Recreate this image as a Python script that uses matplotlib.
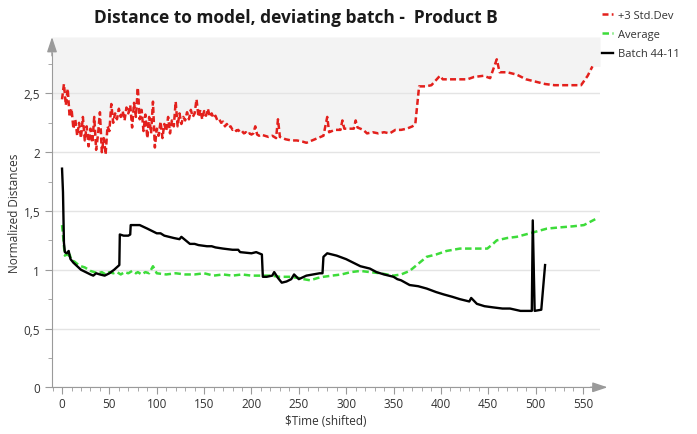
import matplotlib
matplotlib.use("Agg")
import matplotlib.pyplot as plt
from matplotlib.lines import Line2D
from matplotlib.ticker import MultipleLocator, FuncFormatter

# ---------------------------------------------------------------------
# Data: normalized distance to model over shifted time
# ---------------------------------------------------------------------
# +3 Std.Dev control limit (noisy start, smoother later)
std_x = [0, 2, 4, 6, 8, 10, 12, 14, 16, 18, 20, 22, 24, 26, 28, 30, 32, 34, 36, 38,
         40, 42, 44, 46, 48, 50, 52, 54, 56, 58, 60, 62, 64, 66, 68, 70, 72, 74, 76, 78,
         80, 82, 84, 86, 88, 90, 92, 94, 96, 98, 100, 102, 104, 106, 108, 110, 112, 114,
         116, 118, 120, 122, 124, 126, 128, 130, 132, 134, 136, 138, 140, 142, 144, 146,
         148, 150, 152, 154, 156, 158, 160, 162, 164, 166, 168, 170, 172, 174, 176, 178,
         180, 182, 184, 186, 188, 190, 192, 194, 196, 198, 200, 202, 204, 206, 208, 210,
         214, 218, 222, 226, 228, 230, 236, 242, 248, 254, 258, 264, 270, 276, 280, 282,
         288, 294, 296, 298, 304, 308, 310, 312, 318, 322, 328, 334, 340, 346, 352, 358,
         364, 370, 373, 377, 384, 390, 399, 402, 410, 420, 428, 435, 445, 452, 459, 462,
         470, 480, 490, 500, 510, 520, 535, 548, 555, 560]
std_y = [2.45, 2.58, 2.40, 2.54, 2.30, 2.37, 2.20, 2.28, 2.14, 2.25, 2.12, 2.30, 2.10, 2.22,
         2.05, 2.20, 2.08, 2.30, 2.02, 2.15, 2.34, 2.00, 2.12, 1.98, 2.22, 2.18, 2.41, 2.25,
         2.33, 2.28, 2.37, 2.30, 2.35, 2.27, 2.38, 2.33, 2.40, 2.21, 2.42, 2.30, 2.55, 2.28,
         2.36, 2.18, 2.32, 2.12, 2.30, 2.16, 2.43, 2.04, 2.20, 2.14, 2.26, 2.12, 2.24, 2.18,
         2.30, 2.16, 2.27, 2.22, 2.43, 2.22, 2.33, 2.24, 2.30, 2.27, 2.34, 2.28, 2.36, 2.30,
         2.33, 2.45, 2.30, 2.36, 2.28, 2.35, 2.31, 2.37, 2.30, 2.33, 2.29, 2.31, 2.27, 2.28,
         2.25, 2.26, 2.22, 2.24, 2.21, 2.22, 2.19, 2.20, 2.18, 2.19, 2.17, 2.18, 2.16, 2.17,
         2.15, 2.16, 2.15, 2.16, 2.22, 2.15, 2.14, 2.15,
         2.14, 2.13, 2.14, 2.12, 2.28, 2.13, 2.11, 2.10, 2.10, 2.09, 2.08, 2.10, 2.12, 2.14,
         2.30, 2.17, 2.19, 2.19, 2.27, 2.20, 2.20, 2.20, 2.27, 2.21, 2.19, 2.16, 2.17, 2.16,
         2.17, 2.16, 2.19, 2.19, 2.20, 2.22, 2.24, 2.56, 2.56, 2.57, 2.65, 2.62, 2.62, 2.62,
         2.62, 2.64, 2.65, 2.63, 2.79, 2.68, 2.68, 2.66, 2.62, 2.60, 2.58, 2.57, 2.57, 2.57,
         2.65, 2.73]

# Average of reference batches
avg_x = [0, 1, 2, 3, 5, 7, 8, 10, 13, 16, 20, 24, 28, 30, 34, 38, 42, 46, 50, 54, 58,
         62, 66, 70, 74, 78, 80, 84, 88, 92, 96, 100, 110, 120, 130, 140, 150, 160, 170,
         180, 190, 200, 210, 220, 230, 240, 250, 255, 262, 270, 276, 285, 295, 305, 315,
         325, 336, 350, 358, 367, 376, 385, 395, 406, 420, 435, 449, 455, 459, 470, 480,
         494, 503, 512, 525, 540, 551, 563]
avg_y = [1.38, 1.30, 1.20, 1.12, 1.14, 1.10, 1.13, 1.08, 1.07, 1.05, 1.03, 1.02, 1.00,
         0.99, 0.98, 0.97, 0.98, 0.96, 0.98, 0.97, 0.98, 0.96, 0.98, 0.97, 0.99, 0.97,
         0.98, 0.96, 0.98, 0.97, 1.03, 0.97, 0.96, 0.97, 0.96, 0.96, 0.97, 0.95, 0.96,
         0.95, 0.96, 0.95, 0.95, 0.95, 0.94, 0.94, 0.93, 0.92, 0.91, 0.93, 0.94, 0.95,
         0.96, 0.98, 0.99, 0.98, 0.97, 0.95, 0.96, 0.99, 1.05, 1.11, 1.13, 1.16, 1.18,
         1.18, 1.18, 1.22, 1.25, 1.27, 1.28, 1.31, 1.33, 1.35, 1.36, 1.37, 1.38, 1.43]

# Deviating batch 44-11
batch_x = [0, 1, 2, 3, 5, 7, 8, 9, 12, 16, 20, 25, 30, 33, 36, 40, 45, 50, 55, 60.5,
           61, 65, 70, 72, 72.5, 76, 82, 90, 100, 104, 108, 118, 124, 126, 135, 140,
           144, 153, 158, 162, 170, 180, 186, 188, 200, 205, 211, 212, 216, 222, 224,
           228, 232, 237, 242, 245, 250, 258, 265, 272, 275, 276, 280, 290, 300, 315,
           325, 332, 340, 350, 354, 358, 367, 376, 385, 395, 403, 412, 420, 430, 432,
           438, 446, 455, 465, 473, 484, 496, 497, 499, 506, 510]
batch_y = [1.86, 1.66, 1.23, 1.15, 1.14, 1.16, 1.12, 1.09, 1.06, 1.03, 1.00, 0.98, 0.96,
           0.95, 0.97, 0.96, 0.95, 0.97, 1.00, 1.04, 1.30, 1.29, 1.29, 1.30, 1.38, 1.38,
           1.38, 1.35, 1.31, 1.31, 1.29, 1.27, 1.26, 1.28, 1.22, 1.22, 1.21, 1.20, 1.20,
           1.19, 1.18, 1.17, 1.17, 1.15, 1.14, 1.15, 1.13, 0.94, 0.94, 0.95, 0.98, 0.93,
           0.89, 0.90, 0.92, 0.96, 0.92, 0.95, 0.96, 0.97, 0.97, 1.11, 1.14, 1.12, 1.09,
           1.03, 1.01, 0.98, 0.96, 0.94, 0.92, 0.91, 0.87, 0.86, 0.84, 0.81, 0.79, 0.77,
           0.75, 0.73, 0.76, 0.71, 0.69, 0.68, 0.67, 0.67, 0.65, 0.65, 1.42, 0.65, 0.66,
           1.04]

x_ticks = [0, 50, 100, 150, 200, 250, 300, 350, 400, 450, 500, 550]
y_ticks = [0, 0.5, 1, 1.5, 2, 2.5]

# ---------------------------------------------------------------------
# Figure
# ---------------------------------------------------------------------
plt.rcParams['font.family'] = ['Open Sans', 'DejaVu Sans']
AXIS_GREY = '#9a9a9a'
X_MIN, X_MAX = -10.6, 568
Y_MAX = 2.98

fig = plt.figure(figsize=(6.97, 4.35), dpi=100)
ax = fig.add_axes([52 / 697, 1 - 388.3 / 435, 548 / 697, 350.3 / 435])
ax.set_xlim(X_MIN, X_MAX)
ax.set_ylim(0, Y_MAX)

# light shading above the control limit
fill_x = [X_MIN] + std_x + [X_MAX]
fill_y = [std_y[0]] + std_y + [std_y[-1]]
ax.fill_between(fill_x, fill_y, Y_MAX, color='#f3f3f3', lw=0, zorder=0)

ax.plot(avg_x, avg_y, color='#3ddc3a', lw=1.8, dashes=(2.6, 1.4), zorder=3)
ax.plot(std_x, std_y, color='#e3201c', lw=1.8, dashes=(2.4, 1.3), zorder=3)
ax.plot(batch_x, batch_y, color='black', lw=1.7, zorder=4)

# axes styling
ax.yaxis.grid(True, color='#e4e4e4', lw=1)
ax.set_axisbelow(True)
for side in ['top', 'right']:
    ax.spines[side].set_visible(False)
for side in ['left', 'bottom']:
    ax.spines[side].set_color(AXIS_GREY)
ax.spines['left'].set_bounds(0, 2.84)
ax.spines['bottom'].set_bounds(X_MIN, 560)

ax.set_xticks(x_ticks)
ax.set_yticks(y_ticks)
ax.xaxis.set_minor_locator(MultipleLocator(10))
ax.yaxis.set_minor_locator(MultipleLocator(0.25))
ax.yaxis.set_major_formatter(FuncFormatter(lambda v, p: f"{v:g}".replace('.', ',')))
ax.tick_params(which='major', length=5, color=AXIS_GREY, labelsize=8.5, labelcolor='#333333')
ax.tick_params(which='minor', length=3, color=AXIS_GREY)
ax.tick_params(axis='x', pad=2)

# arrow heads on both axes
ax.annotate('', xy=(576, 0), xytext=(558, 0), xycoords='data', annotation_clip=False,
            arrowprops=dict(arrowstyle='-|>,head_length=0.9,head_width=0.3',
                            color=AXIS_GREY, lw=1, shrinkA=0, shrinkB=0))
ax.annotate('', xy=(X_MIN, 2.98), xytext=(X_MIN, 2.82), xycoords='data', annotation_clip=False,
            arrowprops=dict(arrowstyle='-|>,head_length=0.9,head_width=0.3',
                            color=AXIS_GREY, lw=1, shrinkA=0, shrinkB=0))

ax.set_xlabel(r'\$Time (shifted)', fontsize=8.5, color='#333333', labelpad=3)
ax.set_ylabel('Normalized Distances', fontsize=8.5, color='#333333', labelpad=2)

fig.text(296 / 697, 1 - 18 / 435, 'Distance to model, deviating batch -  Product B',
         ha='center', va='center', fontsize=12.5, fontweight='bold', color='#1a1a1a')

handles = [Line2D([], [], color='#e3201c', lw=1.8, dashes=(2.4, 1.3)),
           Line2D([], [], color='#3ddc3a', lw=1.8, dashes=(2.6, 1.4)),
           Line2D([], [], color='black', lw=1.7)]
fig.legend(handles, ['+3 Std.Dev', 'Average', 'Batch 44-11'],
           loc='upper left', bbox_to_anchor=(594 / 697, 1 - 3 / 435), frameon=False,
           fontsize=8, handlelength=1.0, handletextpad=0.5, labelspacing=0.75,
           borderpad=0.2, labelcolor='#333333')

fig.savefig('out.png', dpi=100)
